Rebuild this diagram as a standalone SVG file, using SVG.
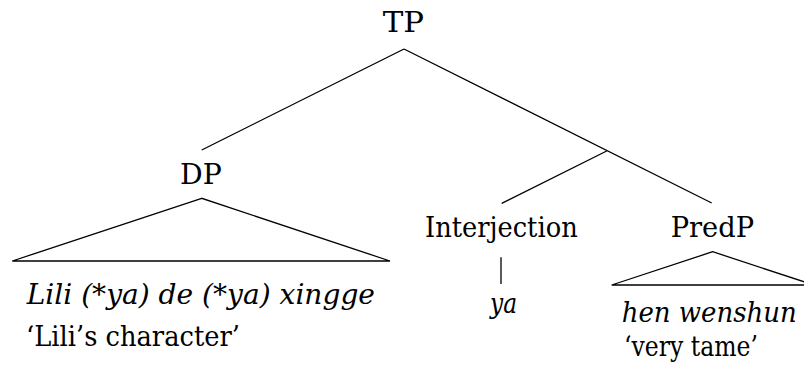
<svg xmlns="http://www.w3.org/2000/svg" width="804" height="376" viewBox="0 0 804 376">
<style>
text{font-family:'DejaVu Serif',serif;font-size:28px;fill:#000}
.it{font-style:italic}
.sm{font-size:25px}
.edge{stroke:#000;stroke-width:1.3;fill:none}
</style>
<rect width="804" height="376" fill="#fff"/>
<g id="connectors">
<line class="edge" x1="404" y1="49" x2="201.7" y2="150"/>
<line class="edge" x1="404" y1="49" x2="711.7" y2="203"/>
<line class="edge" x1="606.7" y1="151" x2="501.7" y2="203.3"/>
<line class="edge" x1="501" y1="257.3" x2="501" y2="284"/>
</g>
<g id="TP"><text x="382.7" y="32.3" textLength="41.3" lengthAdjust="spacingAndGlyphs">TP</text></g>
<g id="DP"><text x="180" y="184.3" textLength="41.7" lengthAdjust="spacingAndGlyphs">DP</text>
<polygon class="edge" points="201.7,198.3 12.3,261 390,261"/></g>
<g id="Interjection"><text x="425" y="236.7" textLength="152.7" lengthAdjust="spacingAndGlyphs">Interjection</text></g>
<g id="PredP"><text x="670.7" y="236.7" textLength="83.3" lengthAdjust="spacingAndGlyphs">PredP</text>
<polygon class="edge" points="712.7,251.7 611.7,285 813.7,285"/></g>
<g id="DP-leaf"><text class="it" x="26.7" y="304" textLength="348.3" lengthAdjust="spacingAndGlyphs">Lili (*ya) de (*ya) xingge</text>
<text x="26" y="346" textLength="214" lengthAdjust="spacingAndGlyphs">‘Lili’s character’</text></g>
<g id="Interjection-leaf"><text class="it" x="490" y="313" textLength="27" lengthAdjust="spacingAndGlyphs">ya</text></g>
<g id="PredP-leaf"><text class="it sm" x="621.7" y="322" textLength="175" lengthAdjust="spacingAndGlyphs" style="font-size:28px;font-stretch:condensed">hen wenshun</text>
<text x="624" y="356" textLength="134" lengthAdjust="spacingAndGlyphs">‘very tame’</text></g>
</svg>
